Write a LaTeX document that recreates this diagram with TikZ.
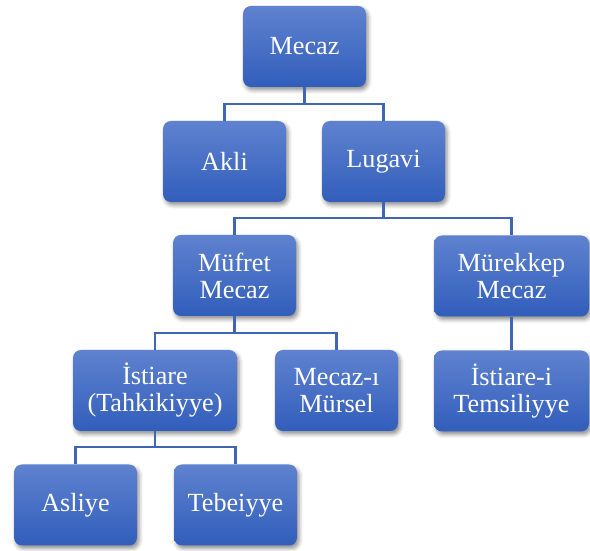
\documentclass[tikz,border=0pt]{standalone}
\usepackage{fontspec}
\setmainfont{Liberation Serif}
\usetikzlibrary{shadows.blur}
\definecolor{boxtop}{RGB}{95,130,207}
\definecolor{boxbot}{RGB}{49,94,187}
\definecolor{linkcol}{RGB}{62,102,178}
\tikzset{
  card/.style={rounded corners=8pt, top color=boxtop, bottom color=boxbot,
    minimum width=123pt, minimum height=81pt, inner sep=0pt,
    text=white, align=center, font=\fontsize{26.2}{27}\selectfont,
    blur shadow={shadow xshift=2pt, shadow yshift=-3pt, shadow blur radius=4pt, shadow opacity=45}},
  link/.style={draw=linkcol, line width=2.4pt}
}
\begin{document}
\begin{tikzpicture}[x=1pt,y=1pt]
\useasboundingbox (0,0) rectangle (590,551);
% level 1
\node[card] (mecaz) at (304.5,504.5) {Mecaz};
% level 2
\node[card] (akli) at (224.5,389.5) {Akli};
\node[card] (lugavi) at (383.5,389.5) {Lugavi};
% level 3
\node[card] (mufret) at (234.5,275.5) {Müfret\\Mecaz};
\node[card, minimum width=155pt] (murekkep) at (511.5,275) {Mürekkep\\Mecaz};
% level 4
\node[card, minimum width=164pt] (istiare) at (155,160.5) {İstiare\\(Tahkikiyye)};
\node[card] (mursel) at (336.5,160.5) {Mecaz-ı\\Mürsel};
\node[card, minimum width=155pt] (temsil) at (511.5,160) {İstiare-i\\Temsiliyye};
% level 5
\node[card] (asliye) at (75.5,46) {Asliye};
\node[card] (tebeiyye) at (235.5,46) {Tebeiyye};
% branch points
\coordinate (b1) at (304.5,447);
\coordinate (b2) at (383.5,333);
\coordinate (b3) at (234.5,218);
\coordinate (b4) at (155,104);
% connectors
\draw[link] (mecaz.south) -- (b1);
\draw[link] (b1) -| (akli.north);
\draw[link] (b1) -| (lugavi.north);
\draw[link] (lugavi.south) -- (b2);
\draw[link] (b2) -| (mufret.north);
\draw[link] (b2) -| (murekkep.north);
\draw[link] (mufret.south) -- (b3);
\draw[link] (b3) -| (istiare.north);
\draw[link] (b3) -| (mursel.north);
\draw[link] (murekkep.south) -- (temsil.north);
\draw[link] (istiare.south) -- (b4);
\draw[link] (b4) -| (asliye.north);
\draw[link] (b4) -| (tebeiyye.north);
\end{tikzpicture}
\end{document}
